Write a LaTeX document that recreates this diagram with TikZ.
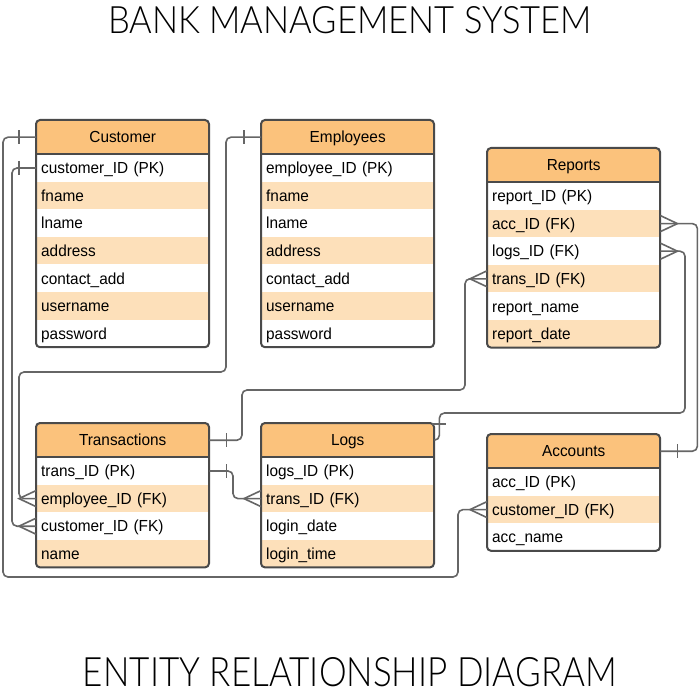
\documentclass[tikz,border=0pt]{standalone}
\usepackage{fontspec}
\usepackage{graphicx}
\setmainfont{Liberation Sans}
\newfontfamily\tblfont{Liberation Sans}[FakeStretch=0.96]
\newfontfamily\titlefont{Lato Light}
\usetikzlibrary{calc}
\definecolor{hdrfill}{HTML}{FBC27C}
\definecolor{stripefill}{HTML}{FDE0BA}
\definecolor{bordercol}{HTML}{4A4A4A}
\definecolor{linecol}{HTML}{666666}
\tikzset{
  hdrbox/.style={inner xsep=5pt, inner ysep=0pt, minimum height=34pt, text width=163pt, align=center, text height=11.5pt, text depth=0pt, font=\tblfont\fontsize{16}{18}\selectfont},
  rowbox/.style={inner xsep=5pt, inner ysep=0pt, minimum height=27.6pt, text width=163pt, align=left, text height=11.5pt, text depth=0pt, font=\tblfont\fontsize{16}{18}\selectfont},
  tblborder/.style={draw=bordercol, line width=2pt, rounded corners=4pt},
  conn/.style={draw=linecol, line width=1.6pt, rounded corners=5pt},
  markline/.style={draw=linecol, line width=1.6pt},
}
\newcommand{\ertable}[6]{%
  \begin{scope}
    \clip[rounded corners=4pt] (#2,#3) rectangle ++(173,{34+#4*27.6});
    \fill[white] (#2,#3) rectangle ++(173,{34+#4*27.6});
    \fill[hdrfill] (#2,#3) rectangle ++(173,34);
    \foreach \r [count=\i] in {#6} {%
      \ifodd\i\else
        \fill[stripefill] (#2,{#3+34+(\i-1)*27.6}) rectangle ++(173,27.6);
      \fi
    }
  \end{scope}
  \node[hdrbox, anchor=north west] (#1-h) at (#2,#3) {#5};
  \foreach \r [count=\i] in {#6} {%
    \node[rowbox, anchor=north west] (#1-\i) at (#2,{#3+34+(\i-1)*27.6}) {\r};
  }
  \draw[tblborder] (#2,#3) rectangle ++(173,{34+#4*27.6});
  \draw[tblborder] (#2,{#3+34}) -- ++(173,0);
}
\newcommand{\barW}[1]{\draw[markline] ($(#1)+(-17,-7)$) -- ($(#1)+(-17,7)$);}
\newcommand{\barE}[1]{\draw[markline] ($(#1)+(17,-7)$) -- ($(#1)+(17,7)$);}
\newcommand{\crowW}[1]{\draw[markline] ($(#1)+(0,-8)$) -- ($(#1)+(-17,0)$) -- ($(#1)+(0,8)$);}
\newcommand{\crowE}[1]{\draw[markline] ($(#1)+(0,-8)$) -- ($(#1)+(17,0)$) -- ($(#1)+(0,8)$);}
\begin{document}
\begin{tikzpicture}[x=1pt,y=-1pt]
\useasboundingbox (0,0) rectangle (700,700);
\fill[white] (0,0) rectangle (700,700);

\node (title) at (350,20.5) {\resizebox{484pt}{27pt}{\titlefont BANK MANAGEMENT SYSTEM}};
\node (subtitle) at (350,672.5) {\resizebox{534pt}{29pt}{\titlefont ENTITY RELATIONSHIP DIAGRAM}};

% tables
\ertable{cust}{36}{120}{7}{Customer}{customer\_ID (PK),fname,lname,address,contact\_add,username,password}
\ertable{emp}{261}{120}{7}{Employees}{employee\_ID (PK),fname,lname,address,contact\_add,username,password}
\ertable{rep}{487}{148}{6}{Reports}{report\_ID (PK),acc\_ID (FK),logs\_ID (FK),trans\_ID (FK),report\_name,report\_date}
\ertable{trans}{36}{423}{4}{Transactions}{trans\_ID (PK),employee\_ID (FK),customer\_ID (FK),name}
\ertable{logs}{261}{423}{4}{Logs}{logs\_ID (PK),trans\_ID (FK),login\_date,login\_time}
\ertable{acc}{487}{434}{3}{Accounts}{acc\_ID (PK),customer\_ID (FK),acc\_name}

% connectors
\draw[conn] (cust-h.west) -| (3,577) -| ($(acc-2.west)+(-29,0)$) -- (acc-2.west);
\barW{cust-h.west}
\crowW{acc-2.west}

\draw[conn] (cust-1.west) -| ($(trans-3.west)+(-24,0)$) -- (trans-3.west);
\barW{cust-1.west}
\crowW{trans-3.west}

\draw[conn] (emp-h.west) -| (226,372) -| ($(trans-2.west)+(-17,0)$) -- (trans-2.west);
\barW{emp-h.west}
\crowW{trans-2.west}

\draw[conn] (trans-h.east) -| (242,390) -| ($(rep-4.west)+(-22,0)$) -- (rep-4.west);
\barE{trans-h.east}
\crowW{rep-4.west}

\draw[conn] (trans-1.east) -| ($(logs-2.west)+(-28,0)$) -- (logs-2.west);
\barE{trans-1.east}
\crowW{logs-2.west}

\draw[conn] (logs-h.east) -- ++(5,0) |- (685,413) |- (rep-3.east);
\draw[markline] ($(logs-h.east)+(-2,-16)$) -- ($(logs-h.east)+(12,-16)$);
\crowE{rep-3.east}

\draw[conn] (rep-2.east) -| ($(acc-h.east)+(37,0)$) -- (acc-h.east);
\crowE{rep-2.east}
\barE{acc-h.east}
\end{tikzpicture}
\end{document}
